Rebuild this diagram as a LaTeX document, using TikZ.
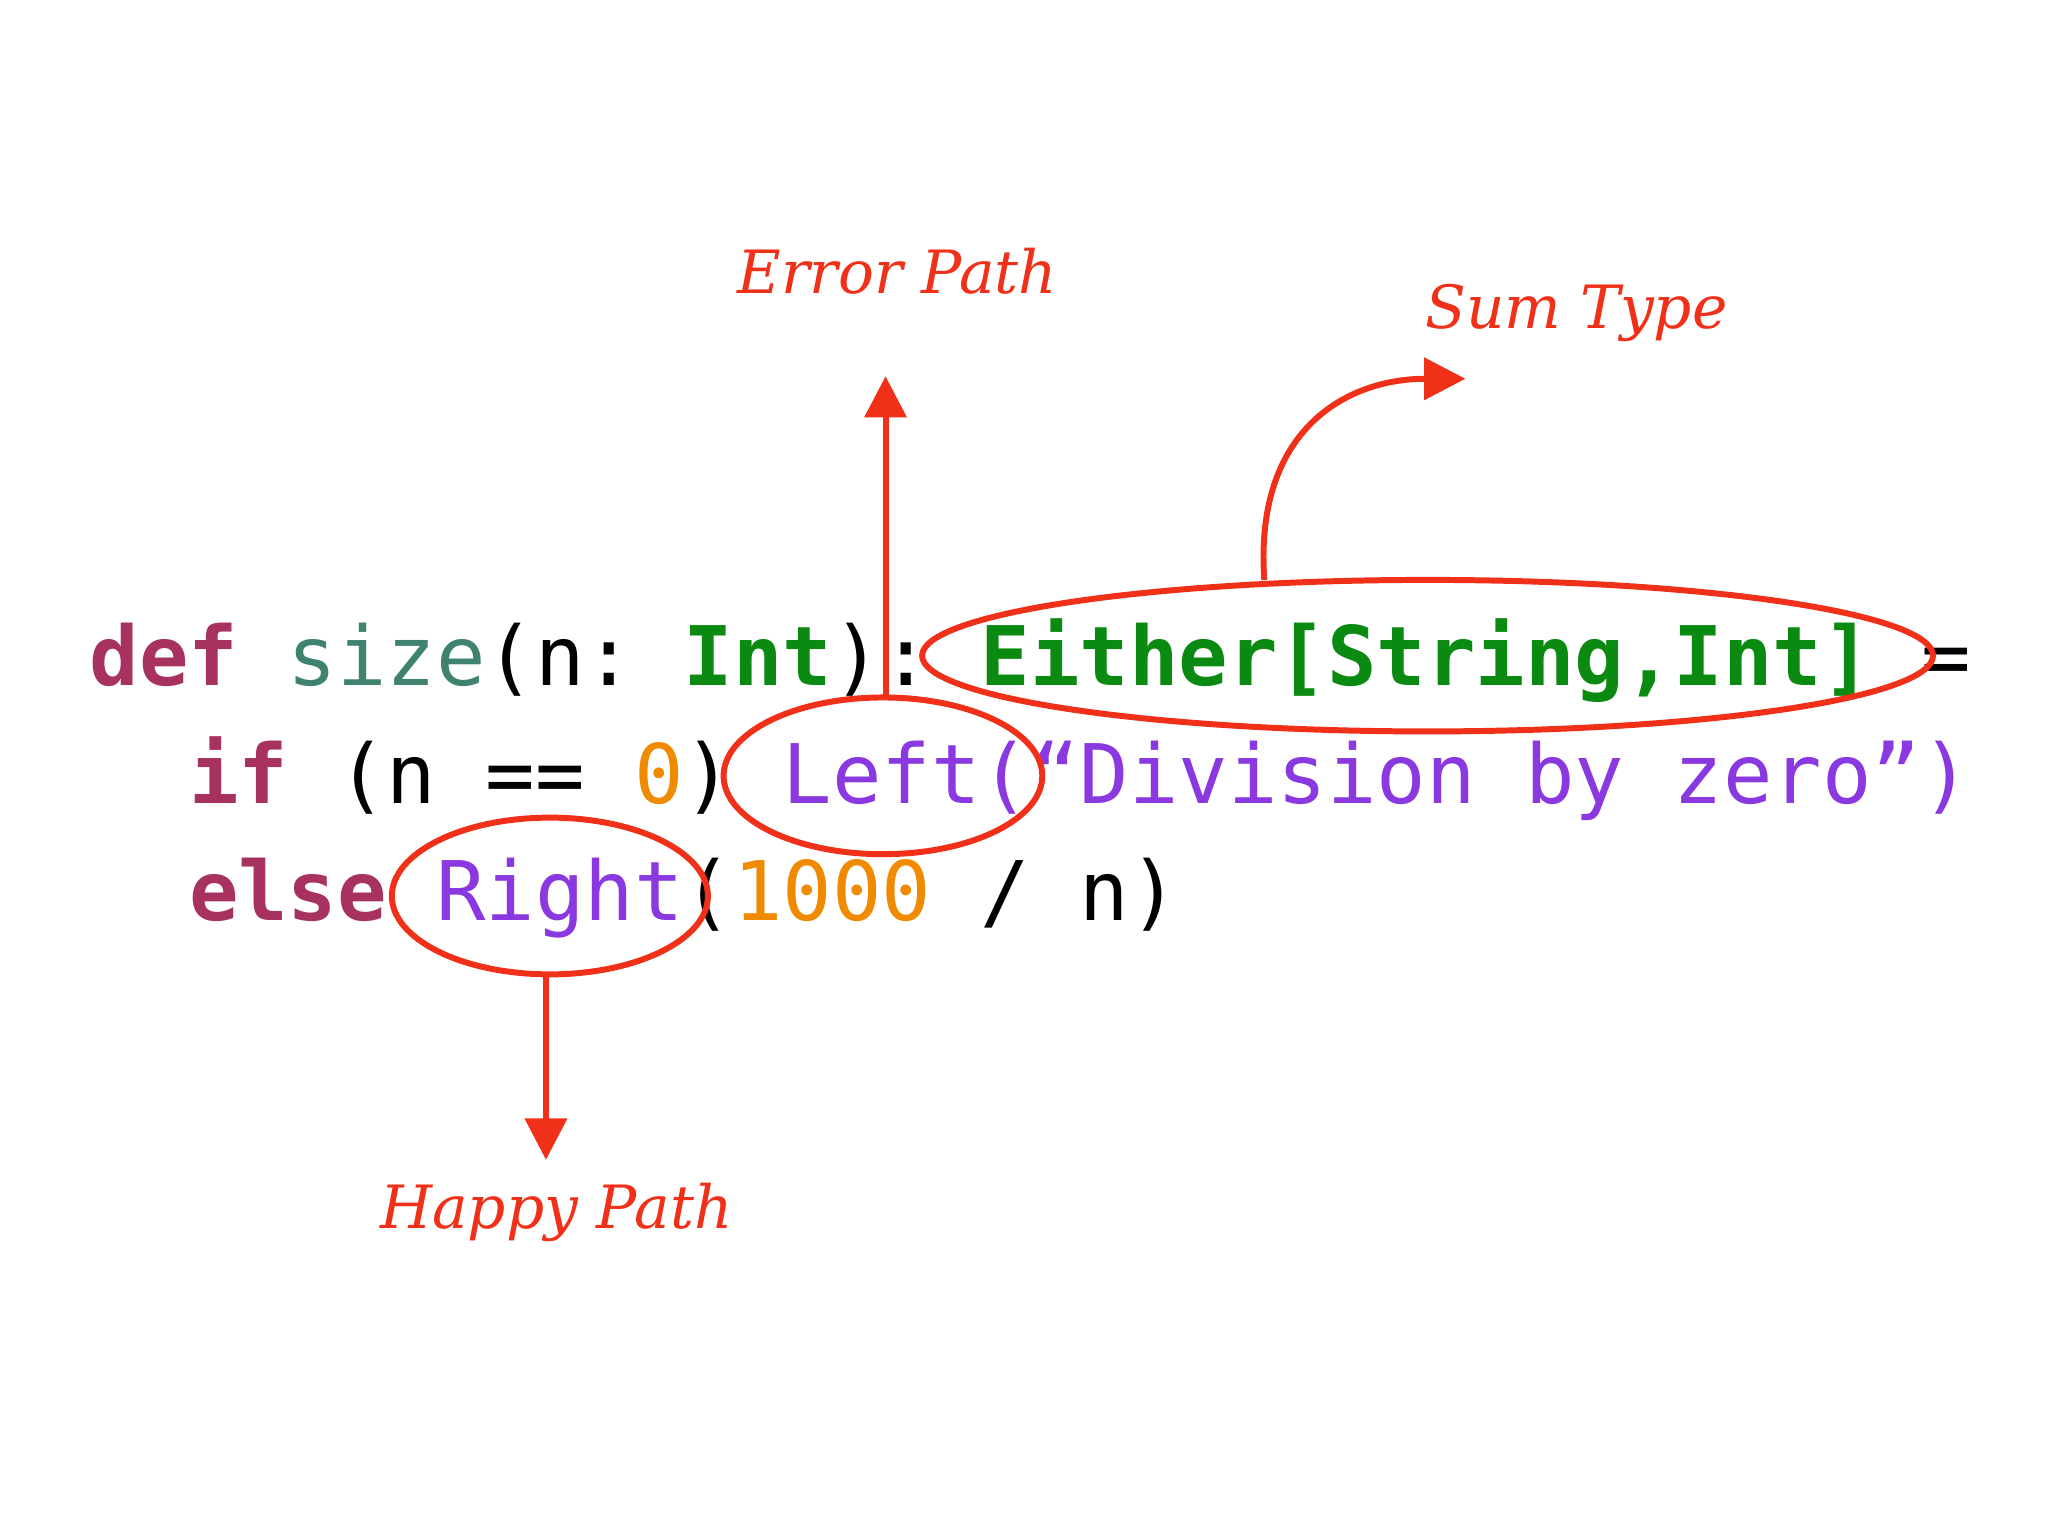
\documentclass[tikz,border=0pt]{standalone}
\usepackage{fontspec}
\setmonofont{DejaVu Sans Mono}
\newfontfamily\hand{DejaVu Serif}
\usetikzlibrary{arrows.meta}
\definecolor{kw}{HTML}{A8325F}
\definecolor{fn}{HTML}{3F8270}
\definecolor{ty}{HTML}{0A8A10}
\definecolor{num}{HTML}{F08A00}
\definecolor{str}{HTML}{8A38E0}
\definecolor{rd}{HTML}{F03018}
\tikzset{code/.style={anchor=base west,inner sep=0,font=\ttfamily\fontsize{17.9pt}{20pt}\selectfont},
 ring/.style={draw=rd,line width=1.3pt},
 arr/.style={draw=rd,line width=1.3pt,-{Triangle[length=9pt,width=9pt]}},
 lab/.style={text=rd,font=\hand\itshape\fontsize{13pt}{15pt}\selectfont}}
\begin{document}
\begin{tikzpicture}[x=0.01cm,y=-0.01cm]
\useasboundingbox (0,0) rectangle (1568,1176);
\node[code] (l1) at (68,525) {\textcolor{kw}{\bfseries def} \textcolor{fn}{size}(n: \textcolor{ty}{\bfseries Int}): \textcolor{ty}{\bfseries Either[String,Int]} =};
\node[code] (l2) at (144,615) {\textcolor{kw}{\bfseries if} (n == \textcolor{num}{0}) \textcolor{str}{Left(“Division by zero”)}};
\node[code] (l3) at (144,705) {\textcolor{kw}{\bfseries else} \textcolor{str}{Right}(\textcolor{num}{1000} / n)};
\draw[ring] (1093,502) ellipse [x radius=387,y radius=58];
\draw[ring] (676,594) ellipse [x radius=122,y radius=60];
\draw[ring] (421,686) ellipse [x radius=121,y radius=60];
\coordinate (e1) at (678,535); \coordinate (e2) at (678,288);
\coordinate (h1) at (418,746); \coordinate (h2) at (418,888);
\coordinate (s1) at (968,444); \coordinate (s2) at (1122,290);
\draw[arr] (e1) -- (e2);
\draw[arr] (h1) -- (h2);
\draw[arr] (s1) .. controls (960,330) and (1030,290) .. (s2);
\node[lab] (ep) at (687,208) {Error Path};
\node[lab] (st) at (1207,240) {Sum Type};
\node[lab] (hp) at (426,928) {Happy Path};
\end{tikzpicture}
\end{document}
